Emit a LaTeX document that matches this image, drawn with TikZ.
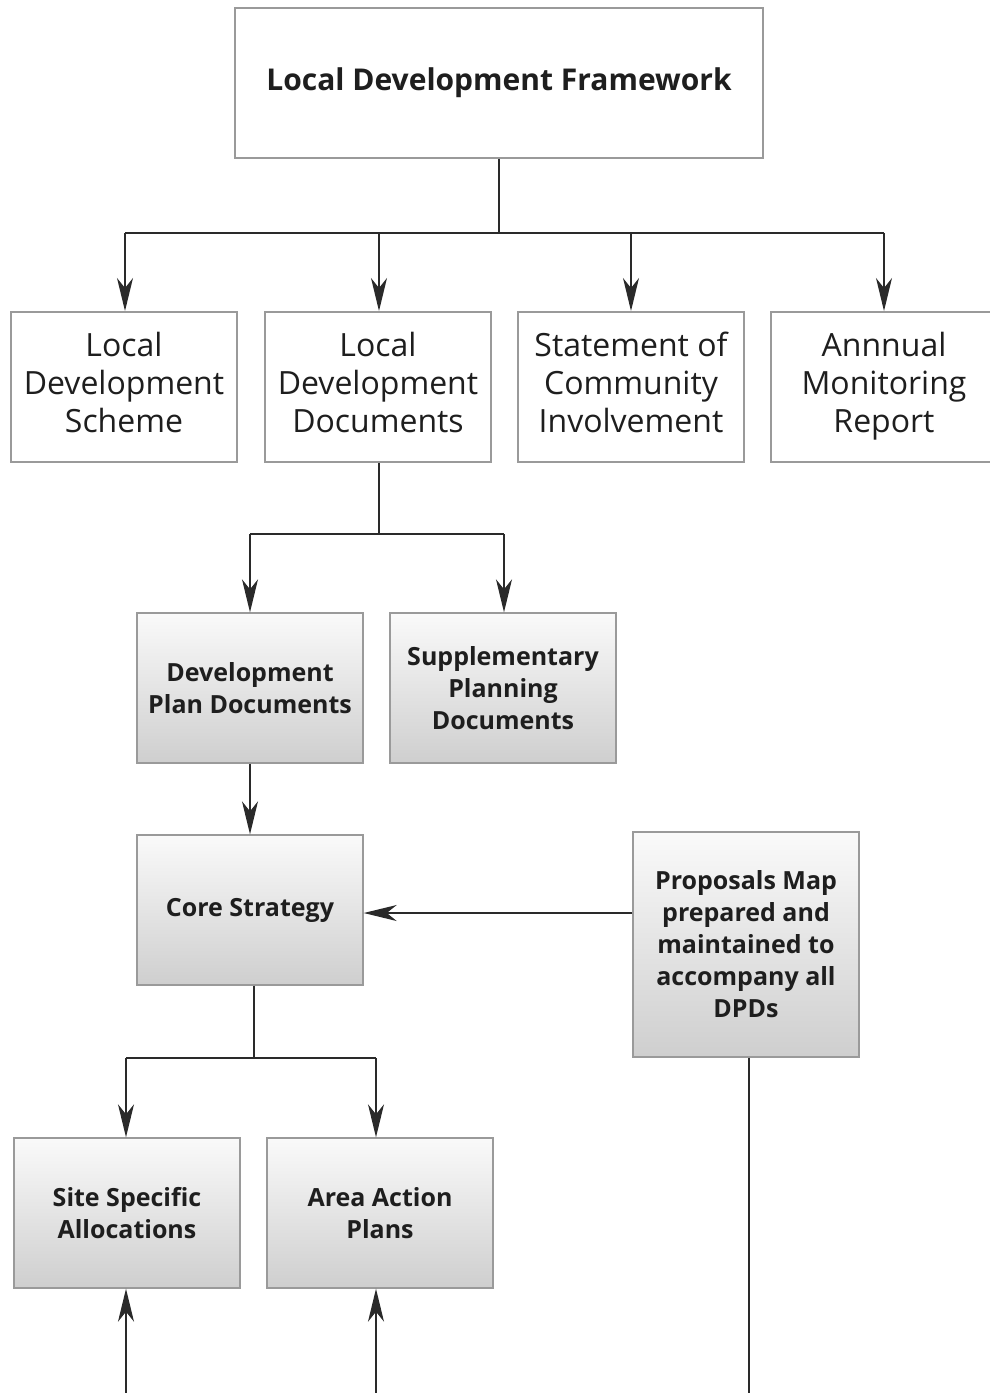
\documentclass[tikz,border=0pt]{standalone}
\usepackage{fontspec}
\setmainfont{Open Sans}
\usetikzlibrary{arrows.meta}
\definecolor{boxline}{HTML}{9A9A9A}
\definecolor{conn}{HTML}{2A2A2A}
\definecolor{txt}{HTML}{1E1E1E}
\tikzset{
  plainbox/.style={draw=boxline, line width=1.4pt, fill=white, minimum width=226pt, minimum height=150pt, align=center, text=txt, inner sep=0pt, font=\fontsize{32}{38}\selectfont},
  topbox/.style={plainbox, minimum width=528pt, font=\fontsize{30}{36}\bfseries\selectfont},
  gradbox/.style={draw=boxline, line width=1.4pt, top color=white!98!black, bottom color=black!19, minimum width=226pt, minimum height=150pt, align=center, text=txt, inner sep=0pt, font=\fontsize{25}{32}\bfseries\selectfont},
  link/.style={draw=conn, line width=1.5pt},
  arr/.style={link, arrows={-Stealth[length=33pt, width=16pt, inset=10pt]}}
}
\begin{document}
\begin{tikzpicture}[x=1pt, y=-1pt]
\useasboundingbox (0,0) rectangle (989,1393);
% top
\node[topbox] (ldf) at (499,83) {Local Development Framework};
% row 2
\node[plainbox] (lds) at (124,387) {\strut Local\\Development\\Scheme\strut};
\node[plainbox] (ldd) at (378,387) {\strut Local\\Development\\Documents\strut};
\node[plainbox] (sci) at (631,387) {\strut Statement of\\Community\\Involvement\strut};
\node[plainbox] (amr) at (884,387) {\strut Annnual\\Monitoring\\Report\strut};
% row 3
\node[gradbox] (dpd) at (250,688) {Development\\Plan Documents};
\node[gradbox] (spd) at (503,688) {Supplementary\\Planning\\Documents};
% row 4
\node[gradbox] (cs) at (250,910) {Core Strategy};
\node[gradbox, minimum height=225pt] (pm) at (746,944.5) {Proposals Map\\prepared and\\maintained to\\accompany all\\DPDs};
% row 5
\node[gradbox] (ssa) at (127,1213) {Site Specific\\Allocations};
\node[gradbox] (aap) at (380,1213) {Area Action\\Plans};
% coordinates
\coordinate (j1) at (499,233);
\coordinate (j2) at (379,534);
\coordinate (j3) at (254,1058);
\coordinate (b1) at (126,1393);
\coordinate (b2) at (376,1393);
\coordinate (b3) at (749,1393);
% connectors
\draw[link] (ldf.south) -- (j1);
\draw[link] (125,233) -- (884,233);
\draw[arr] (125,233) -- (125,311);
\draw[arr] (379,233) -- (379,311);
\draw[arr] (631,233) -- (631,311);
\draw[arr] (884,233) -- (884,311);
\draw[link] (ldd.south -| j2) -- (j2);
\draw[link] (250,534) -- (504,534);
\draw[arr] (250,534) -- (dpd.north -| 250,0);
\draw[arr] (504,534) -- (spd.north -| 504,0);
\draw[arr] (dpd.south) -- (cs.north);
\draw[arr] (pm.west |- 0,913) -- (cs.east |- 0,913);
\draw[link] (cs.south -| j3) -- (j3);
\draw[link] (126,1058) -- (376,1058);
\draw[arr] (126,1058) -- (ssa.north -| 126,0);
\draw[arr] (376,1058) -- (aap.north -| 376,0);
\draw[arr] (b1) -- (ssa.south -| b1);
\draw[arr] (b2) -- (aap.south -| b2);
\draw[link] (pm.south -| b3) -- (b3);
\end{tikzpicture}
\end{document}
